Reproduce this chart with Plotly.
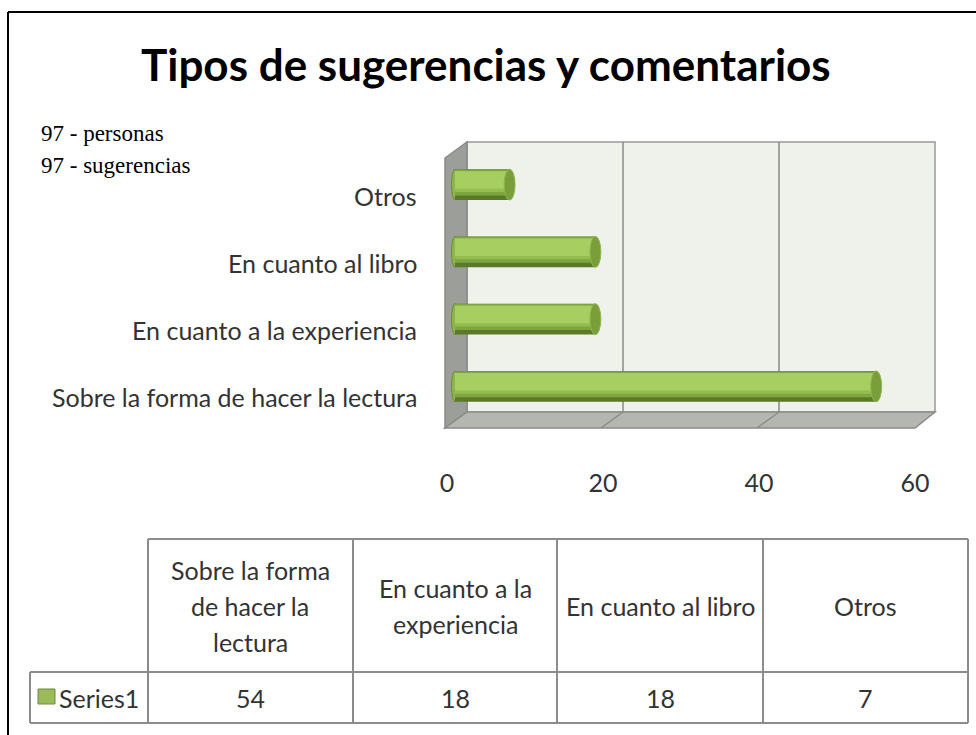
import plotly.graph_objects as go

W, H = 976, 735

# data (bottom to top as in the chart, same order as the table columns)
categories = ["Sobre la forma de hacer la lectura", "En cuanto a la experiencia",
              "En cuanto al libro", "Otros"]
values = [54, 18, 18, 7]
table_headers = ["Sobre la forma<br>de hacer la<br>lectura", "En cuanto a la<br>experiencia",
                 "En cuanto al libro", "Otros"]
series_name = "Series1"
tick_vals = [0, 20, 40, 60]
note_lines = ["97 - personas", "97 - sugerencias"]
title_text = "Tipos de sugerencias y comentarios"

FONT = "Lato"
TXT = "#333333"
FS = 25


def xp(px):
    return px / W


def yp(py):
    return 1 - py / H


def path(points):
    s = "M " + " L ".join("%.5f,%.5f" % (xp(a), yp(b)) for a, b in points)
    return s + " Z"


fig = go.Figure()

# cylinder look: stacked bars, dark base with lighter bands on top
bar_w = 0.46
layers = [
    dict(offset=-0.23, width=0.46, color="#5a7a2a"),
    dict(offset=-0.16, width=0.385, color="#7fa63e"),
    dict(offset=-0.11, width=0.31, color="#94bc50"),
    dict(offset=-0.06, width=0.26, color="#a6ce60"),
]
for L in layers:
    fig.add_trace(go.Bar(
        x=values, y=categories, orientation="h",
        offset=L["offset"], width=L["width"],
        marker=dict(color=L["color"], line=dict(width=0)),
        showlegend=False, hoverinfo="x+y",
    ))

fig.update_layout(barmode="overlay")

shapes = []

# 3D walls of the plot area (pixel geometry of the Excel chart)
back_l, back_r, back_t, back_b = 467, 935, 142, 412
front_l, front_r, front_b = 445, 915, 428
dy = front_b - back_b
shapes.append(dict(type="path", xref="paper", yref="paper", layer="below",
                   path=path([(back_l, back_t), (back_r, back_t), (back_r, back_b), (back_l, back_b)]),
                   fillcolor="#eff2ea", line=dict(color="#9a9a9a", width=1.5)))
shapes.append(dict(type="path", xref="paper", yref="paper", layer="below",
                   path=path([(front_l, back_t + dy), (back_l, back_t), (back_l, back_b), (front_l, front_b)]),
                   fillcolor="#9c9e9a", line=dict(color="#8a8a8a", width=1.5)))
shapes.append(dict(type="path", xref="paper", yref="paper", layer="below",
                   path=path([(front_l, front_b), (back_l, back_b), (back_r, back_b), (front_r, front_b)]),
                   fillcolor="#b4b7b1", line=dict(color="#8a8a8a", width=1.5)))

# gridlines on back wall and floor
scale = (back_r - back_l) / 60.0
for v in tick_vals[1:-1]:
    bx = back_l + v * scale
    fx = front_l + v * scale
    shapes.append(dict(type="line", xref="paper", yref="paper", layer="below",
                       x0=xp(bx), x1=xp(bx), y0=yp(back_t), y1=yp(back_b),
                       line=dict(color="#8a8a8a", width=1.5)))
    shapes.append(dict(type="line", xref="paper", yref="paper", layer="below",
                       x0=xp(bx), x1=xp(fx), y0=yp(back_b), y1=yp(front_b),
                       line=dict(color="#8a8a8a", width=1.5)))

# rounded starts and end caps of the cylinders
for i, v in enumerate(values):
    shapes.append(dict(type="circle", xref="x", yref="y", layer="below",
                       x0=-0.45, x1=0.45, y0=i - bar_w / 2, y1=i + bar_w / 2,
                       fillcolor="#8db64a", line=dict(color="#6b8c35", width=1)))
    shapes.append(dict(type="circle", xref="x", yref="y",
                       x0=v - 0.7, x1=v + 0.7, y0=i - bar_w / 2, y1=i + bar_w / 2,
                       fillcolor="#7a9e3a", line=dict(color="#8fb54e", width=1)))

# outer frame (left and top edges only are visible)
shapes.append(dict(type="line", xref="paper", yref="paper", x0=xp(8), x1=xp(8), y0=0, y1=yp(12),
                   line=dict(color="#000000", width=2)))
shapes.append(dict(type="line", xref="paper", yref="paper", x0=xp(8), x1=1, y0=yp(12), y1=yp(12),
                   line=dict(color="#000000", width=2)))

# data table grid
col_x = [148, 353, 557, 763, 968]
tab_top, tab_mid, tab_bot = 539, 672, 723
row_left = 30
grid = dict(color="#8c8c8c", width=2)
shapes.append(dict(type="line", xref="paper", yref="paper", x0=xp(col_x[0]), x1=xp(col_x[-1]),
                   y0=yp(tab_top), y1=yp(tab_top), line=grid))
shapes.append(dict(type="line", xref="paper", yref="paper", x0=xp(row_left), x1=xp(col_x[-1]),
                   y0=yp(tab_mid), y1=yp(tab_mid), line=grid))
shapes.append(dict(type="line", xref="paper", yref="paper", x0=xp(row_left), x1=xp(col_x[-1]),
                   y0=yp(tab_bot), y1=yp(tab_bot), line=grid))
shapes.append(dict(type="line", xref="paper", yref="paper", x0=xp(row_left), x1=xp(row_left),
                   y0=yp(tab_mid), y1=yp(tab_bot), line=grid))
for cx in col_x:
    shapes.append(dict(type="line", xref="paper", yref="paper", x0=xp(cx), x1=xp(cx),
                       y0=yp(tab_top), y1=yp(tab_bot), line=grid))
# legend key in the table
shapes.append(dict(type="rect", xref="paper", yref="paper", x0=xp(38), x1=xp(55), y0=yp(704), y1=yp(689),
                   fillcolor="#9bbb59", line=dict(color="#71893f", width=1)))

annotations = []
annotations.append(dict(text="<b>" + title_text + "</b>", xref="paper", yref="paper",
                        x=xp(486), y=yp(64), xanchor="center", yanchor="middle", showarrow=False,
                        font=dict(family=FONT, size=44, color="#000000")))
for k, t in enumerate(note_lines):
    annotations.append(dict(text=t, xref="paper", yref="paper", x=xp(39), y=yp(133 + 32 * k),
                            xanchor="left", yanchor="middle", showarrow=False,
                            font=dict(family="Liberation Serif", size=23, color="#000000")))

# category labels (sit a little below each bar, as in the original)
for c in categories:
    annotations.append(dict(text=c, xref="paper", yref="y", x=xp(419), y=c, yshift=-11,
                            xanchor="right", yanchor="middle", showarrow=False,
                            font=dict(family=FONT, size=FS, color=TXT)))

# table texts
head_mid = (tab_top + tab_mid) / 2
row_mid = (tab_mid + tab_bot) / 2
for j, h in enumerate(table_headers):
    cx = (col_x[j] + col_x[j + 1]) / 2
    lines = h.split("<br>")
    for k, ln in enumerate(lines):
        cy = head_mid + (k - (len(lines) - 1) / 2) * 36
        annotations.append(dict(text=ln, xref="paper", yref="paper", x=xp(cx), y=yp(cy),
                                xanchor="center", yanchor="middle", showarrow=False,
                                font=dict(family=FONT, size=FS, color=TXT)))
    annotations.append(dict(text=str(values[j]), xref="paper", yref="paper", x=xp(cx), y=yp(row_mid),
                            xanchor="center", yanchor="middle", showarrow=False,
                            font=dict(family=FONT, size=FS, color=TXT)))
annotations.append(dict(text=series_name, xref="paper", yref="paper", x=xp(57), y=yp(row_mid),
                        xanchor="left", yanchor="middle", showarrow=False,
                        font=dict(family=FONT, size=FS, color=TXT)))

x0_px, x60_px = 455, 923
px_per_unit = (x60_px - x0_px) / 60.0

fig.update_layout(
    width=W, height=H,
    margin=dict(l=0, r=0, t=0, b=0, autoexpand=False),
    showlegend=False,
    paper_bgcolor="white",
    plot_bgcolor="rgba(0,0,0,0)",
    font=dict(family=FONT, color=TXT),
    xaxis=dict(domain=[xp(x0_px - 0.6 * px_per_unit), xp(x60_px)], range=[-0.6, 60],
               tickvals=tick_vals, automargin=False,
               showgrid=False, zeroline=False, showline=False, ticks="",
               ticklabelshift=-8, ticklabelstandoff=46,
               tickfont=dict(family=FONT, size=FS, color=TXT)),
    yaxis=dict(domain=[yp(420), yp(151)], range=[-0.5, 3.5], type="category", automargin=False,
               categoryorder="array", categoryarray=categories,
               showgrid=False, zeroline=False, showline=False, showticklabels=False, ticks=""),
    shapes=shapes,
    annotations=annotations,
)

fig.write_html("out.html", config={"displayModeBar": False},
               post_script="document.body.style.margin='0';")
